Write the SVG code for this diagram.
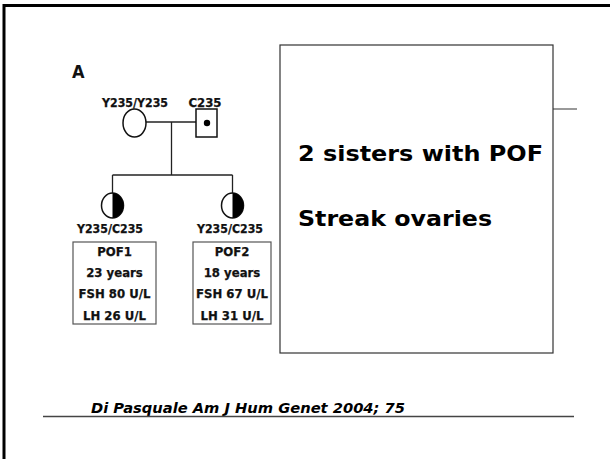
<svg xmlns="http://www.w3.org/2000/svg" width="610" height="459" viewBox="0 0 610 459">
<style>
.ped{font-family:"DejaVu Sans Condensed","DejaVu Sans",sans-serif;font-weight:bold;font-size:13px;fill:#111;text-anchor:middle;stroke:#111;stroke-width:0.25}
.main{font-family:"DejaVu Sans",sans-serif;font-weight:bold;font-size:22px;fill:#000}
.cite{font-family:"DejaVu Sans",sans-serif;font-weight:bold;font-style:italic;font-size:14px;fill:#000}
.ln{stroke:#222;stroke-width:1.3;fill:none}
.sym{stroke:#111;stroke-width:1.5;fill:#fff}
.box{stroke:#555;stroke-width:1.2;fill:#fff}
</style>
<rect width="610" height="459" fill="#fff"/>
<path d="M4,459 V5.5 H610" fill="none" stroke="#000" stroke-width="3"/>
<text x="72" y="78" font-family="DejaVu Sans Condensed, DejaVu Sans, sans-serif" font-weight="bold" font-size="18" fill="#111">A</text>
<g id="connectors">
<line class="ln" x1="146" y1="122" x2="196" y2="122"/>
<line class="ln" x1="171.5" y1="122" x2="171.5" y2="175"/>
<line class="ln" x1="112.5" y1="175" x2="232.5" y2="175"/>
<line class="ln" x1="112.5" y1="175" x2="112.5" y2="193"/>
<line class="ln" x1="232.5" y1="175" x2="232.5" y2="193"/>
<line stroke="#555" stroke-width="1.2" x1="553" y1="109" x2="577" y2="109"/>
</g>
<g id="mother">
<text class="ped" x="135" y="107" textLength="66" lengthAdjust="spacingAndGlyphs">Y235/Y235</text>
<ellipse class="sym" cx="134.5" cy="123" rx="11.5" ry="14"/>
</g>
<g id="father">
<text class="ped" x="205" y="107">C235</text>
<rect class="sym" x="196" y="109" width="21" height="28"/>
<circle cx="207" cy="123" r="3.2" fill="#000"/>
</g>
<g id="pof1">
<ellipse class="sym" cx="112.5" cy="205.5" rx="11" ry="12.5"/>
<path d="M112.5,193 A11,12.5 0 0 1 112.5,218 Z" fill="#000"/>
<text class="ped" x="110" y="233" textLength="66" lengthAdjust="spacingAndGlyphs">Y235/C235</text>
<rect class="box" x="73" y="242" width="83" height="82"/>
<text class="ped" x="114.5" y="256">POF1</text>
<text class="ped" x="114.5" y="277">23 years</text>
<text class="ped" x="114.5" y="298">FSH 80 U/L</text>
<text class="ped" x="114.5" y="320">LH 26 U/L</text>
</g>
<g id="pof2">
<ellipse class="sym" cx="232.5" cy="205.5" rx="11" ry="12.5"/>
<path d="M232.5,193 A11,12.5 0 0 1 232.5,218 Z" fill="#000"/>
<text class="ped" x="230" y="233" textLength="66" lengthAdjust="spacingAndGlyphs">Y235/C235</text>
<rect class="box" x="193" y="242" width="78" height="82"/>
<text class="ped" x="232" y="256">POF2</text>
<text class="ped" x="232" y="277">18 years</text>
<text class="ped" x="232" y="298">FSH 67 U/L</text>
<text class="ped" x="232" y="320">LH 31 U/L</text>
</g>
<g id="summary">
<rect x="280" y="45" width="273" height="308" fill="#fff" stroke="#333" stroke-width="1.2"/>
<text class="main" x="298" y="161" textLength="245" lengthAdjust="spacingAndGlyphs">2 sisters with POF</text>
<text class="main" x="298" y="226" textLength="194" lengthAdjust="spacingAndGlyphs">Streak ovaries</text>
</g>
<g id="citation">
<text class="cite" x="91" y="413" textLength="314" lengthAdjust="spacingAndGlyphs">Di Pasquale Am J Hum Genet 2004; 75</text>
<line x1="43" y1="416.5" x2="574" y2="416.5" stroke="#444" stroke-width="1.3"/>
</g>
</svg>
